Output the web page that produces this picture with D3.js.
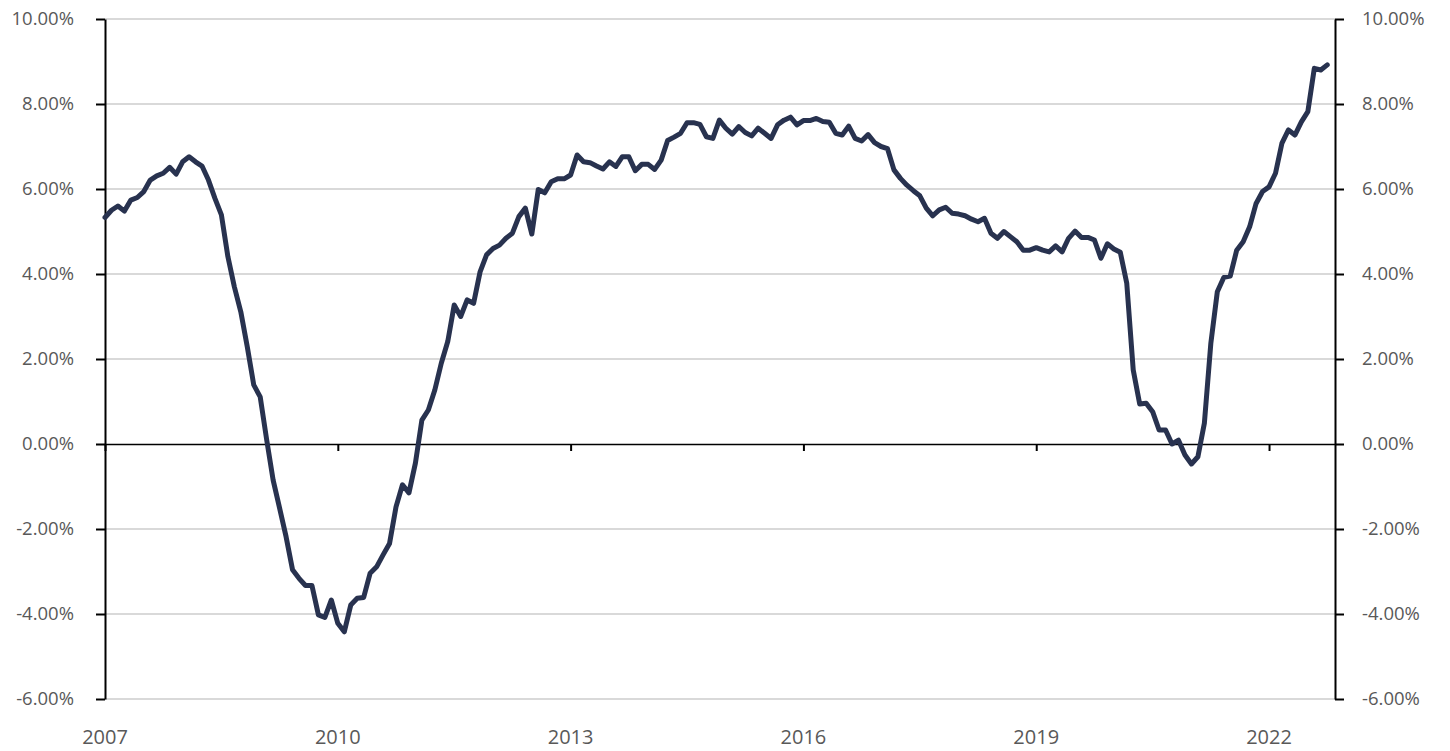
<!DOCTYPE html>
<html>
<head>
<meta charset="utf-8">
<script src="https://cdn.jsdelivr.net/npm/d3@7"></script>
<style>
  html, body { margin: 0; padding: 0; background: #ffffff; }
  svg { display: block; }
  text { font-family: "Open Sans", "DejaVu Sans", sans-serif; fill: #595959; }
</style>
</head>
<body>
<svg id="chart" width="1450" height="751"></svg>
<script>
// ---- Data (monthly, starting January 2007) ----
const startYear = 2007;
const values = [
  5.33, 5.50, 5.60, 5.48, 5.74, 5.80, 5.94, 6.21, 6.31, 6.37, 6.51, 6.35,
  6.64, 6.76, 6.64, 6.54, 6.21, 5.78, 5.39, 4.41, 3.70, 3.11, 2.29, 1.39,
  1.11, 0.10, -0.85, -1.51, -2.18, -2.96, -3.16, -3.33, -3.33, -4.02, -4.08, -3.67,
  -4.22, -4.42, -3.79, -3.63, -3.61, -3.04, -2.89, -2.61, -2.34, -1.48, -0.96, -1.15,
  -0.45, 0.56, 0.80, 1.27, 1.90, 2.41, 3.27, 3.00, 3.39, 3.31, 4.05, 4.45,
  4.60, 4.68, 4.84, 4.96, 5.35, 5.55, 4.94, 5.99, 5.91, 6.17, 6.24, 6.24,
  6.33, 6.80, 6.64, 6.62, 6.54, 6.47, 6.64, 6.53, 6.76, 6.76, 6.43, 6.58,
  6.58, 6.46, 6.68, 7.14, 7.22, 7.31, 7.56, 7.56, 7.52, 7.23, 7.19, 7.62,
  7.43, 7.29, 7.47, 7.33, 7.25, 7.43, 7.31, 7.19, 7.51, 7.62, 7.69, 7.51,
  7.61, 7.61, 7.66, 7.59, 7.57, 7.31, 7.27, 7.48, 7.19, 7.13, 7.28, 7.09,
  7.00, 6.95, 6.45, 6.25, 6.09, 5.96, 5.84, 5.55, 5.37, 5.51, 5.57, 5.43,
  5.41, 5.37, 5.29, 5.23, 5.31, 4.96, 4.84, 5.00, 4.88, 4.76, 4.56, 4.56,
  4.62, 4.56, 4.52, 4.66, 4.52, 4.84, 5.01, 4.86, 4.86, 4.80, 4.37, 4.71,
  4.59, 4.51, 3.78, 1.74, 0.94, 0.96, 0.76, 0.33, 0.33, 0.00, 0.09, -0.26,
  -0.47, -0.30, 0.49, 2.37, 3.58, 3.92, 3.95, 4.56, 4.76, 5.11, 5.66, 5.94,
  6.05, 6.37, 7.08, 7.39, 7.27, 7.58, 7.82, 8.84, 8.80, 8.92
];
const yTicks = [-6, -4, -2, 0, 2, 4, 6, 8, 10];
const xTickYears = [2007, 2010, 2013, 2016, 2019, 2022];

// ---- Layout ----
const svg = d3.select("#chart");
const plotL = 105, plotR = 1335, plotT = 19, plotB = 699;

const x = d3.scaleLinear().domain([0, 190.2]).range([plotL, plotR]);
const y = d3.scaleLinear().domain([-6, 10]).range([plotB, plotT]);

// Gridlines
svg.append("g")
  .selectAll("line")
  .data(yTicks.filter(d => d !== 0))
  .join("line")
  .attr("x1", plotL).attr("x2", plotR)
  .attr("y1", d => y(d)).attr("y2", d => y(d))
  .attr("stroke", "#d9d9d9")
  .attr("stroke-width", 2);

// Left / right axes
const fmt = d => d.toFixed(2) + "%";
const leftAxis = svg.append("g")
  .attr("transform", `translate(${plotL},0)`)
  .call(d3.axisLeft(y).tickValues(yTicks).tickFormat(fmt).tickSize(9).tickSizeOuter(0).tickPadding(22));
const rightAxis = svg.append("g")
  .attr("transform", `translate(${plotR},0)`)
  .call(d3.axisRight(y).tickValues(yTicks).tickFormat(fmt).tickSize(9).tickSizeOuter(0).tickPadding(18));

[leftAxis, rightAxis].forEach(g => {
  g.select(".domain").attr("stroke", "#000").attr("stroke-width", 2);
  g.selectAll(".tick line").attr("stroke", "#000").attr("stroke-width", 2);
  g.selectAll(".tick text")
    .style("font-family", '"Open Sans", sans-serif')
    .style("font-size", "18.5px")
    .style("fill", "#595959");
});

// Zero line with x ticks
const xAxis = svg.append("g")
  .attr("transform", `translate(0,${y(0)})`)
  .call(d3.axisBottom(x)
    .tickValues(xTickYears.map(yr => (yr - startYear) * 12))
    .tickFormat("")
    .tickSize(7).tickSizeOuter(0));
xAxis.select(".domain").attr("stroke", "#000").attr("stroke-width", 1.5);
xAxis.selectAll(".tick line").attr("stroke", "#000").attr("stroke-width", 2);

// Year labels at bottom
svg.append("g")
  .selectAll("text")
  .data(xTickYears)
  .join("text")
  .attr("x", d => x((d - startYear) * 12))
  .attr("y", 744)
  .attr("text-anchor", "middle")
  .style("font-size", "20px")
  .style("fill", "#595959")
  .text(d => d);

// Line
const line = d3.line()
  .x((d, i) => x(i))
  .y(d => y(d))
  .curve(d3.curveLinear);

svg.append("path")
  .datum(values)
  .attr("fill", "none")
  .attr("stroke", "#28324f")
  .attr("stroke-width", 5)
  .attr("stroke-linejoin", "round")
  .attr("stroke-linecap", "round")
  .attr("d", line);
</script>
</body>
</html>
